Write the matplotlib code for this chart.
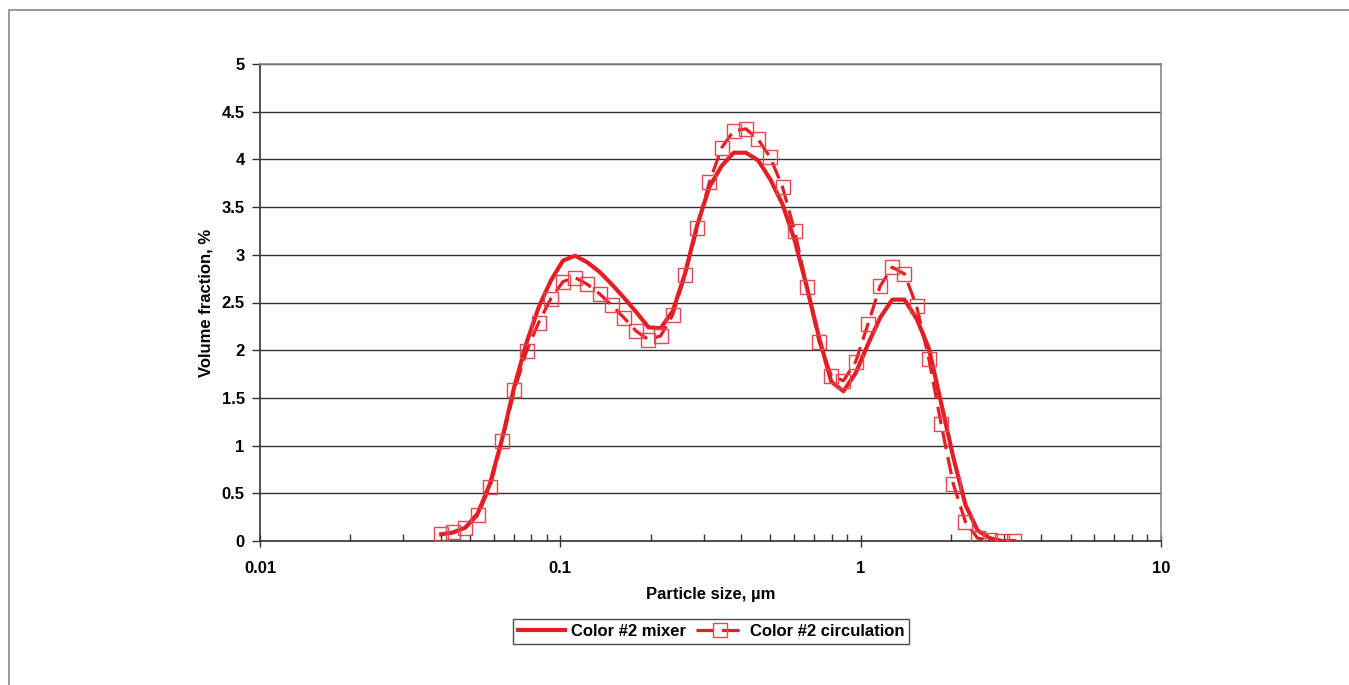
import matplotlib
matplotlib.use("Agg")
import matplotlib.pyplot as plt
from matplotlib.patches import Rectangle
from matplotlib.ticker import FixedLocator, LogLocator, NullFormatter

plt.rcParams['font.family'] = ['Liberation Sans', 'DejaVu Sans']
plt.rcParams['font.weight'] = 'bold'

# particle size classes, um
sizes = [0.0401, 0.0440, 0.0483, 0.0531, 0.0583, 0.0640, 0.0703, 0.0772,
         0.0847, 0.0930, 0.1021, 0.1121, 0.1231, 0.1352, 0.1484, 0.1629,
         0.1789, 0.1965, 0.2157, 0.2368, 0.2600, 0.2855, 0.3135, 0.3442,
         0.3779, 0.4150, 0.4556, 0.5003, 0.5493, 0.6031, 0.6622, 0.7271,
         0.7984, 0.8766, 0.9625, 1.0568, 1.1604, 1.2741, 1.3990, 1.5361,
         1.6866, 1.8519, 2.0334, 2.2327, 2.4515, 2.6915, 2.9550, 3.2446]

mixer = [0.07, 0.09, 0.14, 0.29, 0.60, 1.07, 1.62, 2.08,
         2.45, 2.73, 2.94, 2.99, 2.92, 2.82, 2.69, 2.55,
         2.40, 2.24, 2.23, 2.41, 2.80, 3.31, 3.71, 3.93,
         4.07, 4.07, 3.99, 3.79, 3.53, 3.15, 2.66, 2.13,
         1.67, 1.57, 1.76, 2.06, 2.34, 2.53, 2.53, 2.33,
         2.02, 1.45, 0.88, 0.38, 0.11, 0.03, 0.0, 0.0]

circulation = [0.07, 0.09, 0.14, 0.27, 0.57, 1.05, 1.58, 1.99,
               2.29, 2.54, 2.72, 2.76, 2.69, 2.59, 2.47, 2.34,
               2.20, 2.11, 2.15, 2.37, 2.79, 3.28, 3.76, 4.12,
               4.30, 4.32, 4.21, 4.02, 3.71, 3.25, 2.66, 2.09,
               1.73, 1.68, 1.88, 2.27, 2.67, 2.87, 2.80, 2.46,
               1.91, 1.23, 0.60, 0.20, 0.03, 0.01, 0.0, 0.0]

y_ticks = [0, 0.5, 1, 1.5, 2, 2.5, 3, 3.5, 4, 4.5, 5]
y_labels = ['0', '0.5', '1', '1.5', '2', '2.5', '3', '3.5', '4', '4.5', '5']
x_ticks = [0.01, 0.1, 1, 10]
x_labels = ['0.01', '0.1', '1', '10']

red = '#e31e24'
marker_red = '#e8474f'

fig = plt.figure(figsize=(13.49, 6.85), dpi=100)
ax = fig.add_axes([260 / 1349, 1 - 541 / 685, 901 / 1349, 477 / 685])

# outer chart border
fig.patches.append(Rectangle((9 / 1349, -0.05), 1.1, 1 - 10 / 685 + 0.05,
                             transform=fig.transFigure, fill=False,
                             edgecolor='#888888', linewidth=1.2, zorder=0))

ax.plot(sizes, mixer, color=red, linewidth=3.0, solid_joinstyle='round',
        label='Color #2 mixer', zorder=3)
ax.plot(sizes, circulation, color=red, linewidth=2.3, linestyle=(0, (5.5, 2.5)),
        marker='s', markersize=9.5, markerfacecolor='none',
        markeredgecolor=marker_red, markeredgewidth=1.0,
        label='Color #2 circulation', zorder=4)

ax.set_xscale('log')
ax.set_xlim(0.01, 10)
ax.set_ylim(0, 5)

ax.xaxis.set_major_locator(FixedLocator(x_ticks))
ax.set_xticklabels(x_labels)
ax.xaxis.set_minor_locator(LogLocator(base=10, subs=range(2, 10)))
ax.xaxis.set_minor_formatter(NullFormatter())
ax.set_yticks(y_ticks)
ax.set_yticklabels(y_labels)

ax.tick_params(axis='x', which='major', direction='inout', length=9, width=1,
               color='#333333', labelsize=12, pad=10)
ax.tick_params(axis='x', which='minor', direction='in', length=5, width=1,
               color='#333333')
ax.tick_params(axis='y', which='major', direction='out', length=6, width=1,
               color='#333333', labelsize=12, pad=5)

ax.grid(axis='y', color='#333333', linewidth=1.0)
ax.set_axisbelow(True)

ax.spines['left'].set_color('#333333')
ax.spines['bottom'].set_color('#333333')
ax.spines['right'].set_color('#888888')
ax.spines['top'].set_color('#888888')
for s in ax.spines.values():
    s.set_linewidth(1.2)

ax.set_xlabel('Particle size, µm', fontsize=12, fontweight='bold', labelpad=8)
ax.set_ylabel('Volume fraction, %', fontsize=12, fontweight='bold', labelpad=6)

leg = fig.legend(loc='center', bbox_to_anchor=(711 / 1349, 1 - 631 / 685),
                 ncol=2, fontsize=12, frameon=True, fancybox=False,
                 borderpad=0.3, handlelength=2.8, columnspacing=0.6,
                 handletextpad=0.4)
leg.get_frame().set_edgecolor('#222222')
leg.get_frame().set_linewidth(1.0)

fig.savefig('out.png', dpi=100)
